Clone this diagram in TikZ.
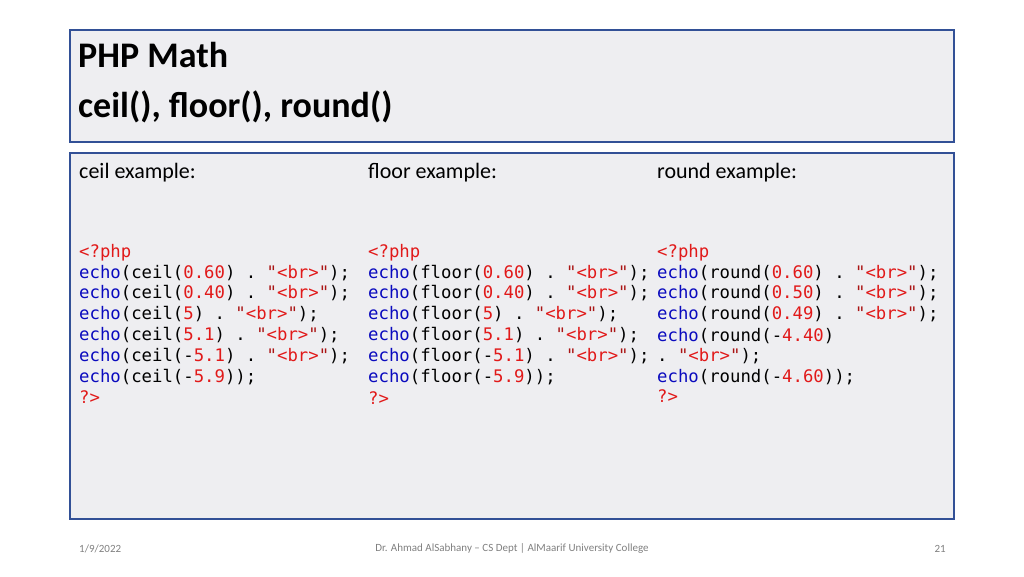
\documentclass[tikz,border=0pt]{standalone}
\usepackage{fontspec}
\setmainfont{Carlito}
\setmonofont{DejaVu Sans Mono}
\definecolor{kwc}{RGB}{10,10,190}
\definecolor{numc}{RGB}{225,25,25}
\definecolor{strc}{RGB}{170,20,20}
\definecolor{boxfill}{RGB}{238,238,241}
\definecolor{boxline}{RGB}{50,80,150}
\newcommand\kw[1]{\textcolor{kwc}{#1}}
\newcommand\nm[1]{\textcolor{numc}{#1}}
\newcommand\st[1]{\textcolor{strc}{"}\textcolor{numc}{#1}\textcolor{strc}{"}}
\tikzset{panel/.style={draw=boxline,line width=1.5pt,fill=boxfill},
code/.style={anchor=base west,inner sep=0pt,font=\fontsize{17.3}{17}\ttfamily},
head/.style={anchor=base west,inner sep=0pt,font=\fontsize{22}{22}\selectfont},
foot/.style={inner sep=0pt,text=gray,font=\fontsize{11}{11}\selectfont}}
\begin{document}
\begin{tikzpicture}[x=1pt,y=-1pt]
\useasboundingbox (0,0) rectangle (1024,576);
\fill[white] (0,0) rectangle (1024,576);
\draw[panel] (70,30) rectangle (954,142);
\draw[panel] (70,153) rectangle (954,519);
\node[anchor=base west,inner sep=0pt,font=\fontsize{36}{36}\bfseries] (t1) at (78,67) {PHP Math};
\node[anchor=base west,inner sep=0pt,font=\fontsize{36}{36}\bfseries] (t2) at (78,117) {ceil(), floor(), round()};
\node[head] (h1) at (79,178) {ceil example:};
\node[head] (h2) at (368,178) {floor example:};
\node[head] (h3) at (657,178) {round example:};
% ceil
\node[code] (a1) at (79,257) {\nm{<?php}};
\node[code] (a2) at (79,278) {\kw{echo}(ceil(\nm{0.60}) . \st{<br>});};
\node[code] (a3) at (79,298) {\kw{echo}(ceil(\nm{0.40}) . \st{<br>});};
\node[code] (a4) at (79,319) {\kw{echo}(ceil(\nm{5}) . \st{<br>});};
\node[code] (a5) at (79,340) {\kw{echo}(ceil(\nm{5.1}) . \st{<br>});};
\node[code] (a6) at (79,361) {\kw{echo}(ceil(-\nm{5.1}) . \st{<br>});};
\node[code] (a7) at (79,382) {\kw{echo}(ceil(-\nm{5.9}));};
\node[code] (a8) at (79,403) {\nm{?>}};
% floor
\node[code] (b1) at (368,257) {\nm{<?php}};
\node[code] (b2) at (368,278) {\kw{echo}(floor(\nm{0.60}) . \st{<br>});};
\node[code] (b3) at (368,298) {\kw{echo}(floor(\nm{0.40}) . \st{<br>});};
\node[code] (b4) at (368,319) {\kw{echo}(floor(\nm{5}) . \st{<br>});};
\node[code] (b5) at (368,340) {\kw{echo}(floor(\nm{5.1}) . \st{<br>});};
\node[code] (b6) at (368,361) {\kw{echo}(floor(-\nm{5.1}) . \st{<br>});};
\node[code] (b7) at (368,382) {\kw{echo}(floor(-\nm{5.9}));};
\node[code] (b8) at (368,404) {\nm{?>}};
% round
\node[code] (c1) at (657,257) {\nm{<?php}};
\node[code] (c2) at (657,278) {\kw{echo}(round(\nm{0.60}) . \st{<br>});};
\node[code] (c3) at (657,298) {\kw{echo}(round(\nm{0.50}) . \st{<br>});};
\node[code] (c4) at (657,319) {\kw{echo}(round(\nm{0.49}) . \st{<br>});};
\node[code] (c5) at (657,341) {\kw{echo}(round(-\nm{4.40})};
\node[code] (c6) at (657,361) {. \st{<br>});};
\node[code] (c7) at (657,382) {\kw{echo}(round(-\nm{4.60}));};
\node[code] (c8) at (657,402) {\nm{?>}};
% footer
\node[foot,anchor=west] (f1) at (79,549) {1/9/2022};
\node[foot] (f2) at (512,548) {Dr. Ahmad AlSabhany -- CS Dept | AlMaarif University College};
\node[foot,anchor=east] (f3) at (946,549) {21};
\end{tikzpicture}
\end{document}
